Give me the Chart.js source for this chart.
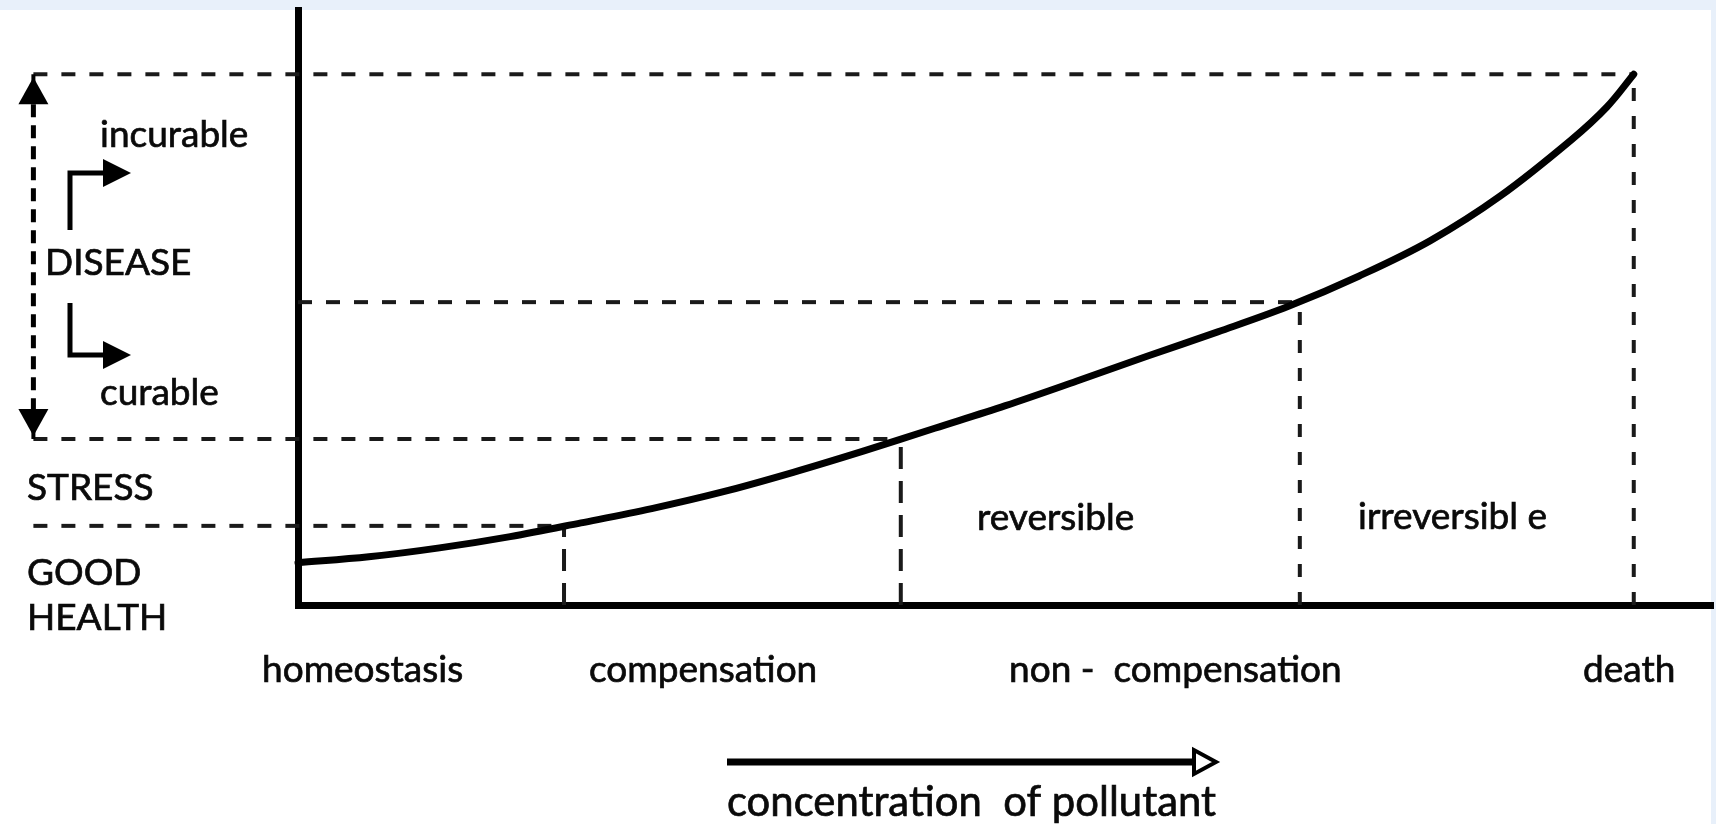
<!DOCTYPE html>
<html>
<head>
<meta charset="utf-8">
<script src="https://cdn.jsdelivr.net/npm/chart.js@4.4.1/dist/chart.umd.min.js"></script>
<style>
  html, body { margin: 0; padding: 0; background: #e8f0fa; }
  #wrap { width: 1716px; height: 824px; }
</style>
</head>
<body>
<div id="wrap"><canvas id="doseChart" width="1716" height="824"></canvas></div>
<script>
// concentration of pollutant (x) against state of health (y), arbitrary units 0-100
const curveX = [0, 5, 10, 15, 20, 25, 30, 35, 40, 45, 50, 55, 60, 65, 70, 75, 80, 85, 90, 92.5, 94.4];
const curveY = [7.1, 8.1, 9.6, 11.5, 13.8, 16.2, 19.0, 22.3, 25.9, 29.7, 33.5, 37.6, 41.8, 45.9, 50.2, 55.3, 61.2, 68.8, 78.2, 83.7, 89.2];

// end of each phase on the x axis and the health level reached there
const phaseEndX = [18.8, 42.6, 70.8, 94.4];
const phaseEndY = [13.3, 27.9, 50.9, 89.2];

const phaseLabels = ['homeostasis', 'compensation', 'non -  compensation', 'death'];
const damageLabels = ['reversible', 'irreversibl e'];
const healthLabels = ['GOOD', 'HEALTH', 'STRESS', 'DISEASE', 'curable', 'incurable'];
const axisTitle = 'concentration  of pollutant';

const BRACKET_X = -18.7; // left bracket sits outside the plot area

const guideSets = [];
phaseEndX.forEach((x, i) => {
  const y = phaseEndY[i];
  guideSets.push({
    data: [{ x: i === 2 ? 0 : BRACKET_X, y: y }, { x: x, y: y }],
    borderDash: [14, 14],
    borderWidth: 4
  });
  guideSets.push({
    data: [{ x: x, y: 0 }, { x: x, y: y }],
    borderDash: i < 2 ? [22, 12] : [13, 15],
    borderWidth: 4
  });
});

const datasets = guideSets.map(g => Object.assign({
  type: 'line',
  borderColor: '#1a1a1a',
  pointRadius: 0,
  tension: 0,
  fill: false,
  clip: false,
  order: 2
}, g));

datasets.push({
  type: 'line',
  data: curveX.map((x, i) => ({ x: x, y: curveY[i] })),
  borderColor: '#000',
  borderWidth: 7,
  borderCapStyle: 'round',
  tension: 0.35,
  pointRadius: 0,
  fill: false,
  clip: false,
  order: 1
});

const background = {
  id: 'background',
  beforeDraw(chart) {
    const ctx = chart.ctx;
    ctx.save();
    ctx.fillStyle = '#e8f0fa';
    ctx.fillRect(0, 0, chart.width, chart.height);
    ctx.fillStyle = '#ffffff';
    ctx.fillRect(0, 10, chart.width - 5, chart.height - 10);
    ctx.restore();
  }
};

function arrowHead(ctx, tipX, tipY, dir, len, half, open) {
  ctx.beginPath();
  if (dir === 'up' || dir === 'down') {
    const s = dir === 'up' ? 1 : -1;
    ctx.moveTo(tipX, tipY);
    ctx.lineTo(tipX - half, tipY + s * len);
    ctx.lineTo(tipX + half, tipY + s * len);
  } else {
    ctx.moveTo(tipX, tipY);
    ctx.lineTo(tipX - len, tipY - half);
    ctx.lineTo(tipX - len, tipY + half);
  }
  ctx.closePath();
  if (open) {
    ctx.fillStyle = '#fff';
    ctx.fill();
    ctx.lineWidth = 4;
    ctx.stroke();
  } else {
    ctx.fill();
  }
}

function label(ctx, text, x, y) {
  ctx.fillText(text, x, y);
  ctx.strokeText(text, x, y);
}

const annotations = {
  id: 'annotations',
  afterDraw(chart) {
    const ctx = chart.ctx;
    const xs = chart.scales.x;
    const ys = chart.scales.y;
    const bx = xs.getPixelForValue(BRACKET_X);
    const yTop = ys.getPixelForValue(phaseEndY[3]);
    const yStress = ys.getPixelForValue(phaseEndY[1]);

    ctx.save();
    ctx.strokeStyle = '#000';
    ctx.fillStyle = '#000';

    // double arrow spanning the disease band
    ctx.setLineDash([13, 8]);
    ctx.lineWidth = 5;
    ctx.beginPath();
    ctx.moveTo(bx, yTop + 30);
    ctx.lineTo(bx, yStress - 30);
    ctx.stroke();
    ctx.setLineDash([]);
    ctx.lineWidth = 4;
    ctx.beginPath();
    ctx.moveTo(bx, yTop);
    ctx.lineTo(bx, yTop + 10);
    ctx.moveTo(bx, yStress);
    ctx.lineTo(bx, yStress - 10);
    ctx.stroke();
    arrowHead(ctx, bx, yTop + 3, 'up', 27, 15, false);
    arrowHead(ctx, bx, yStress - 3, 'down', 27, 15, false);

    // bent arrows towards incurable / curable
    ctx.lineWidth = 5;
    ctx.beginPath();
    ctx.moveTo(70, 230);
    ctx.lineTo(70, 173);
    ctx.lineTo(106, 173);
    ctx.moveTo(70, 303);
    ctx.lineTo(70, 355);
    ctx.lineTo(106, 355);
    ctx.stroke();
    arrowHead(ctx, 131, 173, 'right', 28, 14, false);
    arrowHead(ctx, 131, 355, 'right', 28, 14, false);

    // concentration arrow
    ctx.lineWidth = 7;
    ctx.beginPath();
    ctx.moveTo(727, 762);
    ctx.lineTo(1194, 762);
    ctx.stroke();
    arrowHead(ctx, 1216, 762, 'right', 22, 12, true);

    // texts
    ctx.fillStyle = '#0a0a0a';
    ctx.strokeStyle = '#0a0a0a';
    ctx.lineWidth = 0.7;
    ctx.font = '37px Lato';
    ctx.textBaseline = 'alphabetic';
    ctx.textAlign = 'left';
    label(ctx, healthLabels[5], 100, 147);
    label(ctx, healthLabels[3], 45, 275);
    label(ctx, healthLabels[4], 100, 405);
    label(ctx, healthLabels[2], 27, 500);
    label(ctx, healthLabels[0], 27, 585);
    label(ctx, healthLabels[1], 27, 630);

    const phaseLeft = [262, 589, 1009, 1583];
    phaseLabels.forEach((t, i) => label(ctx, t, phaseLeft[i], 682));

    label(ctx, damageLabels[0], 977, 530);
    label(ctx, damageLabels[1], 1358, 529);

    ctx.font = '42px Lato';
    const w = ctx.measureText(axisTitle).width;
    ctx.save();
    ctx.translate(727, 816);
    ctx.scale(489 / w, 1);
    label(ctx, axisTitle, 0, 0);
    ctx.restore();
    ctx.restore();
  }
};

new Chart(document.getElementById('doseChart'), {
  type: 'line',
  data: { datasets: datasets },
  options: {
    responsive: false,
    animation: false,
    layout: { padding: { left: 290, top: 10, right: 3, bottom: 211 } },
    plugins: {
      legend: { display: false },
      tooltip: { enabled: false }
    },
    scales: {
      x: {
        type: 'linear', min: 0, max: 100,
        grid: { display: false },
        ticks: { display: false },
        border: { color: '#000', width: 7 }
      },
      y: {
        type: 'linear', min: 0, max: 100,
        grid: { display: false },
        ticks: { display: false },
        border: { color: '#000', width: 7 }
      }
    }
  },
  plugins: [background, annotations]
});
</script>
</body>
</html>
